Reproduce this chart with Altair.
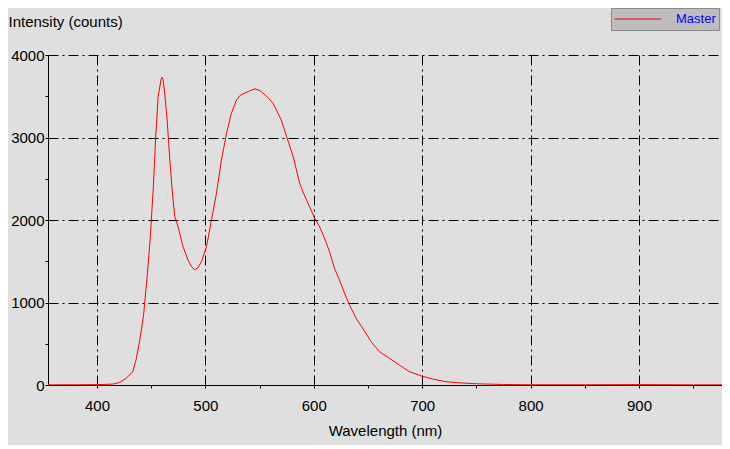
import altair as alt
import pandas as pd

wavelength = [350, 360, 380, 400, 410, 415, 421, 427, 433, 436, 439.5, 443, 446, 449, 452, 454,
              456.4, 459, 460, 461, 462.5, 464.7, 467.2, 469.6, 471.8, 474.8, 479.4, 484, 487,
              490, 493, 496.4, 501, 505.6, 510.2, 514.8, 519.5, 524, 528.7, 532, 536, 540, 545.6,
              550, 553, 558, 562.5, 566, 570, 575, 581, 587, 590.4, 596.6, 600.6, 605.2, 609.8,
              614.4, 619, 623.6, 628.3, 632.9, 639, 645.1, 652.8, 660.5, 669.7, 678.9, 688.1,
              699.4, 709.5, 721.9, 732.5, 750, 775, 800, 850, 900, 950, 982]
intensity = [0, 2, 3, 5, 8, 12, 32, 81, 162, 303, 545, 850, 1273, 1758, 2404, 2970,
             3495, 3697, 3730, 3700, 3535, 3212, 2727, 2323, 2040, 1919, 1676, 1515, 1440,
             1395, 1420, 1495, 1676, 2000, 2323, 2727, 3050, 3293, 3455, 3510, 3535, 3560, 3590,
             3570, 3540, 3480, 3414, 3320, 3212, 3010, 2767, 2444, 2329, 2147, 2025, 1924, 1782,
             1620, 1418, 1276, 1114, 972, 810, 689, 526, 405, 324, 243, 162,
             109, 73, 40, 28, 15, 6, 3, 3, 5, 2, 2]
series = ["Master"] * len(wavelength)

x_ticks = list(range(400, 951, 50))
y_ticks = list(range(0, 4001, 500))

df = pd.DataFrame({"wavelength": wavelength, "intensity": intensity, "series": series})

FONT = "Liberation Sans"
DASH = [10, 4, 2, 4]

chart = alt.Chart(df).mark_line(strokeWidth=1, clip=True).encode(
    x=alt.X("wavelength:Q",
            scale=alt.Scale(domain=[354.8, 976.6], nice=False, zero=False),
            axis=alt.Axis(
                values=x_ticks,
                title="Wavelength (nm)",
                labelExpr="datum.value % 100 == 0 ? datum.label : ''",
                gridOpacity=alt.expr("datum.value % 100 == 0 ? 1 : 0"),
                grid=True, gridColor="black", gridDash=DASH, gridWidth=1,
                domainColor="black", tickColor="black", tickSize=3,
                labelPadding=10, labelFontSize=15, labelFont=FONT, labelColor="black",
                titleFontSize=15, titleFont=FONT, titleFontWeight="normal", titleColor="black",
                titleBaseline="alphabetic", titleY=50, titleX=337, labelFlush=False,
            )),
    y=alt.Y("intensity:Q",
            scale=alt.Scale(domain=[0, 4000], nice=False),
            axis=alt.Axis(
                values=y_ticks,
                title="Intensity (counts)",
                labelExpr="datum.value % 1000 == 0 ? datum.label : ''",
                format="d",
                gridOpacity=alt.expr("datum.value % 1000 == 0 && datum.value > 0 ? 1 : 0"),
                grid=True, gridColor="black", gridDash=DASH, gridWidth=1,
                domainColor="black", tickColor="black", tickSize=3,
                labelPadding=1, labelFontSize=15, labelFont=FONT, labelColor="black",
                titleFontSize=15, titleFont=FONT, titleFontWeight="normal", titleColor="black",
                titleAngle=0, titleAlign="left", titleBaseline="alphabetic",
                titleX=-40, titleY=-29, labelFlush=False,
            )),
    color=alt.Color("series:N",
                    scale=alt.Scale(domain=["Master"], range=["#ff0000"]),
                    legend=alt.Legend(
                        title=None, orient="none", legendX=563, legendY=-47,
                        symbolType="stroke", symbolSize=2209, symbolStrokeWidth=1,
                        symbolOpacity=1,
                        fillColor="#bdbdbd", strokeColor="#8a8a8a", padding=3,
                        labelFontSize=13, labelFont=FONT, labelColor="#0000ff",
                        labelOffset=14, clipHeight=16,
                    )),
).properties(
    width=674, height=330,
    background="#dedfde",
    padding={"left": 40, "top": 47, "right": 0, "bottom": 60},
    autosize=alt.AutoSizeParams(type="none"),
).configure_view(stroke=None)

chart.save("out.html", embed_options={"renderer": "svg", "actions": False})
